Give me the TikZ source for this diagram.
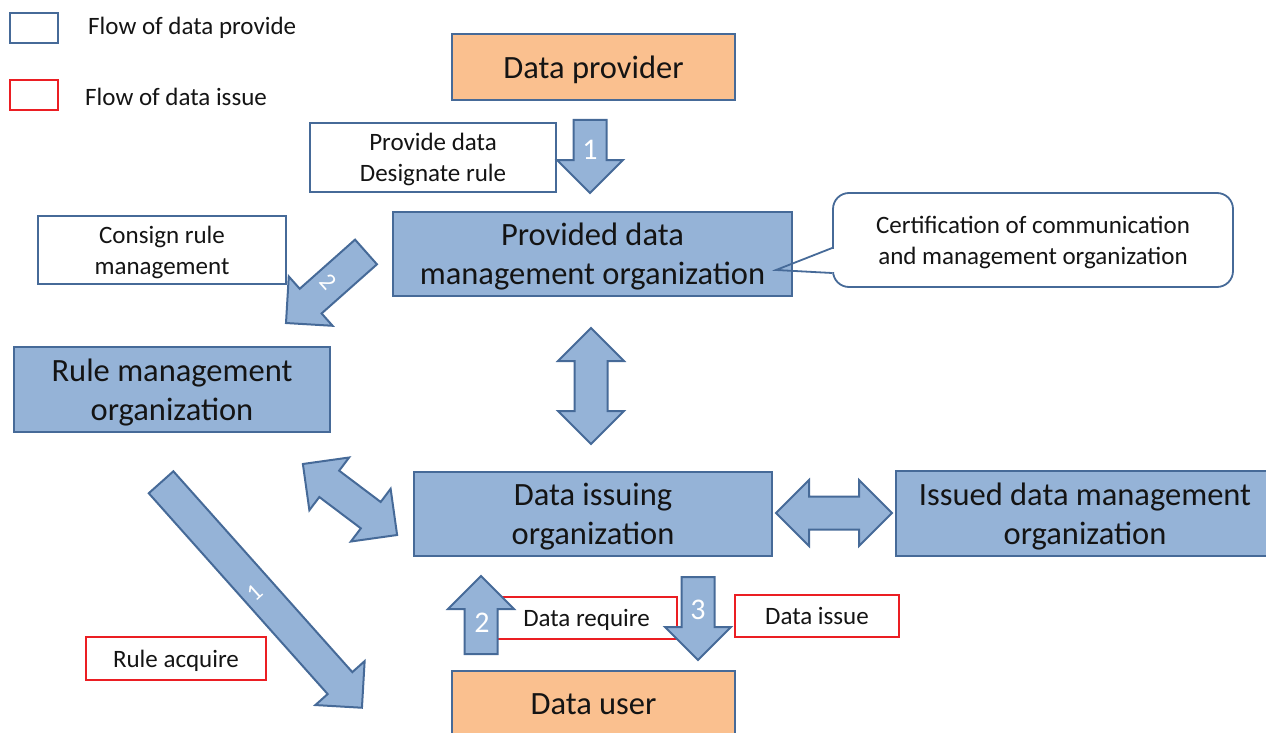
\documentclass[tikz,border=0pt]{standalone}
\usepackage{fontspec}
\setmainfont{Carlito}
\usetikzlibrary{calc}

\definecolor{orgfill}{RGB}{149,179,215}
\definecolor{orgline}{RGB}{70,106,152}
\definecolor{userfill}{RGB}{250,192,143}
\definecolor{issuered}{RGB}{235,30,35}
\definecolor{txt}{RGB}{20,20,20}

\tikzset{
  pics/onearrow/.style={code={
    \draw[flow] ({-#1/2},-16.5) -- ({#1/2-33},-16.5) -- ({#1/2-33},-33) -- ({#1/2},0)
      -- ({#1/2-33},33) -- ({#1/2-33},16.5) -- ({-#1/2},16.5) -- cycle;
  }},
  pics/twoarrow/.style={code={
    \draw[flow] ({-#1/2},0) -- ({-#1/2+33},-33) -- ({-#1/2+33},-16.5) -- ({#1/2-33},-16.5)
      -- ({#1/2-33},-33) -- ({#1/2},0) -- ({#1/2-33},33) -- ({#1/2-33},16.5)
      -- ({-#1/2+33},16.5) -- ({-#1/2+33},33) -- cycle;
  }}
}

\begin{document}
\begin{tikzpicture}[
  x=1pt, y=-1pt,
  orgbox/.style={draw=orgline, line width=2.4pt, fill=orgfill, text=txt, align=center, inner sep=0pt, text depth=-5pt, font=\fontsize{32.5}{39}\selectfont},
  userbox/.style={orgbox, fill=userfill, text depth=0pt},
  notebox/.style={draw=orgline, line width=1.3pt, fill=white, text=txt, align=center, inner sep=0pt, text depth=-2pt, font=\fontsize{25}{31}\selectfont},
  issuebox/.style={notebox, draw=issuered, text depth=0pt},
  legendtxt/.style={anchor=west, inner sep=0pt, text=txt, font=\fontsize{25}{31}\selectfont},
  flow/.style={draw=orgline, line width=2pt, fill=orgfill, line join=miter},
  numlbl/.style={text=white, inner sep=0pt, font=\fontsize{30}{30}\selectfont}
]
\useasboundingbox (0,0) rectangle (1266,733);

% legend
\node[notebox, line width=1.6pt, minimum width=48pt, minimum height=30pt] (legprov) at (34,28) {};
\node[legendtxt] (legprovtxt) at (88,28) {Flow of data provide};
\node[issuebox, line width=1.6pt, minimum width=48pt, minimum height=30pt] (legiss) at (34,95) {};
\node[legendtxt] (legisstxt) at (85,97) {Flow of data issue};

% organizations
\node[userbox, minimum width=283pt, minimum height=66pt] (provider) at (593.5,67) {Data provider};
\node[orgbox, minimum width=399pt, minimum height=84pt] (pdmo) at (592.5,254) {Provided data\\management organization};
\node[orgbox, minimum width=316pt, minimum height=85pt] (rmo) at (172,389.5) {Rule management\\organization};
\node[orgbox, minimum width=358pt, minimum height=84pt] (dio) at (593,514) {Data issuing\\organization};
\node[orgbox, minimum width=378pt, minimum height=85pt] (idmo) at (1085,513.5) {Issued data management\\organization};
\node[userbox, minimum width=283pt, minimum height=66pt] (user) at (593.5,704) {Data user};

% notes
\node[notebox, minimum width=246pt, minimum height=69pt] (provnote) at (433,157.5) {Provide data\\Designate rule};
\node[notebox, minimum width=248pt, minimum height=68pt] (consign) at (162,250) {Consign rule\\management};
\node[notebox, line width=1.8pt, rounded corners=16pt, minimum width=400pt, minimum height=94pt] (cert) at (1033,240) {Certification of communication\\and management organization};
\node[issuebox, minimum width=180pt, minimum height=43pt] (ruleacq) at (176,658.5) {Rule acquire};
\node[issuebox, minimum width=181pt, minimum height=42pt] (datareq) at (586.5,618) {Data require};
\node[issuebox, minimum width=164pt, minimum height=42pt] (dataiss) at (817,616) {Data issue};

% callout pointer
\coordinate (certtip) at (776,270);
\fill[white] ($(cert.west)+(-1.5,9)$) rectangle ($(cert.west)+(1.5,32)$);
\draw[orgline, line width=1.8pt] ($(cert.west)+(0,8)$) -- (certtip) -- ($(cert.west)+(0,33)$);

% block arrows
\pic[rotate=-90] (arrprov) at (590,156.5) {onearrow=73};
\pic[rotate=-138.4] (arrconsign) at (326,287.5) {onearrow=107};
\pic[rotate=90] (arrpdmo) at (591,386) {twoarrow=116};
\pic[rotate=-37] (arrrmo) at (350,499.5) {twoarrow=118};
\pic (arridmo) at (834,513) {twoarrow=116};
\pic[rotate=-48.3] (arrrule) at (261.5,595) {onearrow=302};
\pic[rotate=90] (arrreq) at (481,615) {onearrow=78};
\pic[rotate=-90] (arriss) at (698,618.5) {onearrow=83};

% step numbers
\node[numlbl] (n1) at (590,150) {1};
\node[numlbl, rotate=-48, font=\fontsize{24}{24}\selectfont] (n2) at (328,282) {2};
\node[numlbl, rotate=42, font=\fontsize{24}{24}\selectfont] (n3) at (255,593) {1};
\node[numlbl] (n4) at (482,623) {2};
\node[numlbl] (n5) at (698,610) {3};
\end{tikzpicture}
\end{document}
